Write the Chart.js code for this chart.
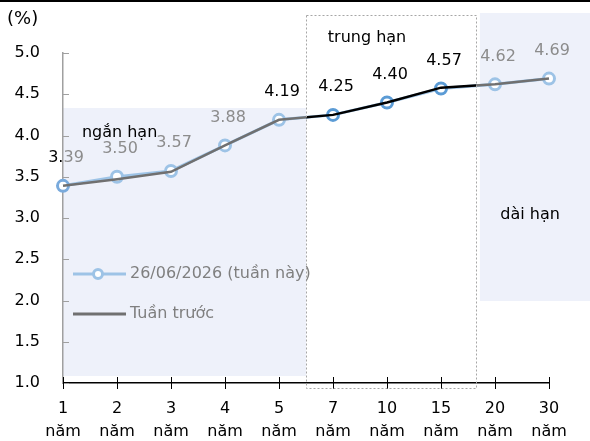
<!DOCTYPE html>
<html>
<head>
<meta charset="utf-8">
<script src="https://cdn.jsdelivr.net/npm/chart.js@4.4.1/dist/chart.umd.min.js"></script>
<style>
  html, body { margin: 0; padding: 0; background: #fff; }
  #wrap { width: 590px; height: 441px; position: relative; }
</style>
</head>
<body>
<div id="wrap"><canvas id="c"></canvas></div>
<script>
// dữ liệu
const kyHan = [['1', 'năm'], ['2', 'năm'], ['3', 'năm'], ['4', 'năm'], ['5', 'năm'],
               ['7', 'năm'], ['10', 'năm'], ['15', 'năm'], ['20', 'năm'], ['30', 'năm']];
const tuanNay = [3.39, 3.50, 3.57, 3.88, 4.19, 4.25, 4.40, 4.57, 4.62, 4.69];
const tuanTruoc = [3.39, 3.47, 3.56, 3.88, 4.19, 4.25, 4.40, 4.58, 4.62, 4.69];
const yTicks = [1.0, 1.5, 2.0, 2.5, 3.0, 3.5, 4.0, 4.5, 5.0];

// style
const FONT = "'DejaVu Sans', Verdana, sans-serif";
const XANH = '#9DC3E6';
const XANH_DAM = '#5B9BD5';
const XAM = '#707070';
const NEN = '#EEF1FA';
const mauDiem = ['#79AADC', XANH, XANH, XANH, XANH, XANH_DAM, XANH_DAM, XANH_DAM, XANH, XANH];
const mauNhan = ['#000', '#8C8C8C', '#8C8C8C', '#8C8C8C', '#000', '#000', '#000', '#000', '#8C8C8C', '#8C8C8C'];

// vùng nền (toạ độ theo thang của trục: chỉ số danh mục, %)
const vungNgan = { x0: 0, x1: 4.5, y0: 1.085, y1: 4.333 };
const vungTrung = { x0: 4.5, x1: 7.648, y0: 0.94, y1: 5.46 };
const vungDai = { x0: 7.72, y0: 1.994, y1: 5.485 };

function dashBox(ctx, x, y, w, h) {
  ctx.save();
  ctx.strokeStyle = '#A6A6A6';
  ctx.lineWidth = 1;
  ctx.setLineDash([2, 2]);
  ctx.strokeRect(Math.round(x) + 0.5, Math.round(y) + 0.5, Math.round(w), Math.round(h));
  ctx.restore();
}

const nenPlugin = {
  id: 'nen',
  beforeDraw(chart) {
    const { ctx, scales: { x, y } } = chart;
    ctx.save();
    ctx.fillStyle = '#000';
    ctx.fillRect(0, 0, chart.width, 2);
    ctx.fillStyle = NEN;
    let a = x.getPixelForValue(vungNgan.x0), b = x.getPixelForValue(vungNgan.x1);
    let t = y.getPixelForValue(vungNgan.y1), d = y.getPixelForValue(vungNgan.y0);
    ctx.fillRect(a, t, b - a, d - t);
    a = x.getPixelForValue(vungDai.x0);
    t = y.getPixelForValue(vungDai.y1); d = y.getPixelForValue(vungDai.y0);
    ctx.fillRect(a, t, chart.width - a, d - t);
    ctx.restore();
  },
  afterDraw(chart) {
    const { ctx, scales: { x, y } } = chart;
    ctx.save();
    // vạch chia trục y (hướng vào trong)
    ctx.strokeStyle = '#A0A0A0';
    ctx.lineWidth = 1;
    y.ticks.forEach(tk => {
      const py = Math.round(y.getPixelForValue(tk.value)) + 0.5;
      ctx.beginPath(); ctx.moveTo(x.left, py); ctx.lineTo(x.left + 6, py); ctx.stroke();
    });
    // vạch chia trục x (cắt ngang)
    ctx.strokeStyle = '#000';
    kyHan.forEach((_, i) => {
      const px = Math.round(x.getPixelForValue(i)) + 0.5;
      ctx.beginPath(); ctx.moveTo(px, y.bottom - 6); ctx.lineTo(px, y.bottom + 6); ctx.stroke();
    });
    // khung trung hạn
    const a = x.getPixelForValue(vungTrung.x0), b = x.getPixelForValue(vungTrung.x1);
    const t = y.getPixelForValue(vungTrung.y1), d = y.getPixelForValue(vungTrung.y0);
    dashBox(ctx, a, t, b - a, d - t);

    ctx.textBaseline = 'middle';
    ctx.fillStyle = '#000';
    ctx.textAlign = 'left';
    ctx.font = '18px ' + FONT;
    ctx.fillText('(%)', 7, 19);
    ctx.font = '16px ' + FONT;
    ctx.fillText('ngắn hạn', x.getPixelForValue(0.35), y.getPixelForValue(4.03));
    ctx.textAlign = 'center';
    ctx.fillText('trung hạn', x.getPixelForValue(5.63), y.getPixelForValue(5.18));
    ctx.fillText('dài hạn', x.getPixelForValue(8.65), y.getPixelForValue(3.04));

    // nhãn số liệu
    const meta = chart.getDatasetMeta(0);
    meta.data.forEach((pt, i) => {
      const s = tuanNay[i].toFixed(2);
      const lx = pt.x + 3, ly = pt.y - 28;
      if (i === 0) {
        const w = ctx.measureText(s).width;
        const p1 = s.slice(0, 2);
        ctx.textAlign = 'left';
        ctx.fillStyle = '#000';
        ctx.fillText(p1, lx - w / 2, ly);
        ctx.fillStyle = '#8C8C8C';
        ctx.fillText(s.slice(2), lx - w / 2 + ctx.measureText(p1).width, ly);
        ctx.textAlign = 'center';
      } else {
        ctx.fillStyle = mauNhan[i];
        ctx.fillText(s, lx, ly);
      }
    });

    // chú giải
    ctx.lineWidth = 3;
    ctx.strokeStyle = XANH;
    ctx.beginPath(); ctx.moveTo(73, 274); ctx.lineTo(126, 274); ctx.stroke();
    ctx.fillStyle = '#fff';
    ctx.beginPath(); ctx.arc(98, 274, 4.5, 0, Math.PI * 2); ctx.fill(); ctx.stroke();
    ctx.strokeStyle = XAM;
    ctx.beginPath(); ctx.moveTo(73, 314); ctx.lineTo(126, 314); ctx.stroke();
    ctx.textAlign = 'left';
    ctx.fillStyle = '#7F7F7F';
    ctx.fillText('26/06/2026 (tuần này)', 130, 274);
    ctx.fillText('Tuần trước', 130, 314);
    ctx.restore();
  }
};

function mauTuanTruoc(c) {
  const chart = c.chart;
  const area = chart.chartArea;
  if (!area) return XAM;
  const x = chart.scales.x;
  const a = x.getPixelForValue(vungTrung.x0), b = x.getPixelForValue(vungTrung.x1);
  const w = area.right - area.left;
  const fa = Math.min(Math.max((a - area.left) / w, 0), 1);
  const fb = Math.min(Math.max((b - area.left) / w, 0), 1);
  const g = chart.ctx.createLinearGradient(area.left, 0, area.right, 0);
  g.addColorStop(0, XAM);
  g.addColorStop(fa, XAM);
  g.addColorStop(fa, '#000');
  g.addColorStop(fb, '#000');
  g.addColorStop(fb, XAM);
  g.addColorStop(1, XAM);
  return g;
}

new Chart(document.getElementById('c'), {
  type: 'line',
  data: {
    labels: kyHan,
    datasets: [
      {
        label: '26/06/2026 (tuần này)',
        data: tuanNay,
        borderColor: XANH,
        borderWidth: 3,
        pointRadius: 5.5,
        pointBorderWidth: 3,
        pointBackgroundColor: '#fff',
        pointBorderColor: mauDiem,
        tension: 0,
        order: 1
      },
      {
        label: 'Tuần trước',
        data: tuanTruoc,
        borderColor: mauTuanTruoc,
        borderWidth: 2.5,
        pointRadius: 0,
        tension: 0,
        order: 0
      }
    ]
  },
  options: {
    responsive: true,
    maintainAspectRatio: false,
    animation: false,
    layout: { padding: { top: 53, right: 41, left: 0, bottom: 0 } },
    plugins: { legend: { display: false }, tooltip: { enabled: false } },
    scales: {
      x: {
        offset: false,
        grid: { display: false, drawTicks: false },
        border: { display: true, color: '#000', width: 1.5 },
        ticks: { color: '#000', font: { family: FONT, size: 16, lineHeight: 1.4 }, padding: 15, maxRotation: 0, autoSkip: false },
        afterFit(s) { s.height = 58; }
      },
      y: {
        min: 1, max: 5,
        grid: { display: false, drawTicks: false },
        border: { display: true, color: '#A0A0A0', width: 1.5 },
        ticks: {
          color: '#000', font: { family: FONT, size: 16 }, padding: 23,
          stepSize: 0.5,
          callback: v => yTicks.includes(v) ? v.toFixed(1) : ''
        },
        afterFit(s) { s.width = 63; }
      }
    }
  },
  plugins: [nenPlugin]
});
</script>
</body>
</html>
